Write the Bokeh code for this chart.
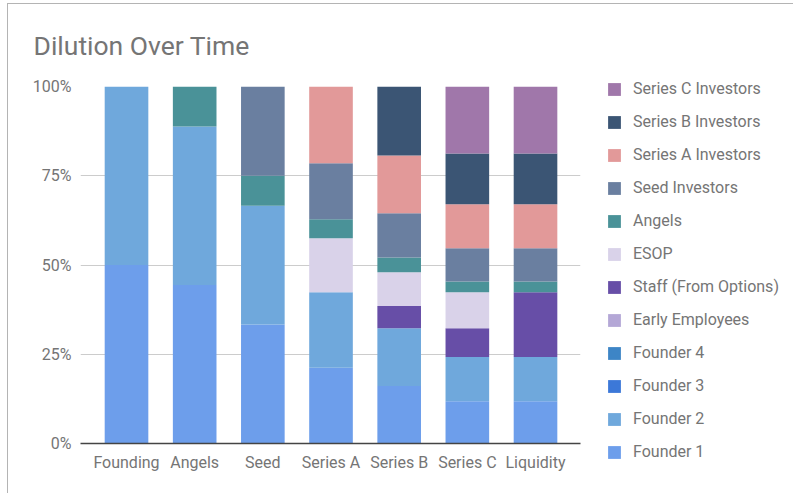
from bokeh.plotting import figure
from bokeh.models import (ColumnDataSource, Range1d, FixedTicker, Legend,
                          LegendItem)
from bokeh.embed import file_html
from bokeh.resources import INLINE

stages = ["Founding", "Angels", "Seed", "Series A", "Series B", "Series C", "Liquidity"]

founder_1 = [50.0, 44.4, 33.3, 21.2, 16.1, 11.8, 11.8]
founder_2 = [50.0, 44.4, 33.3, 21.2, 16.2, 12.4, 12.4]
founder_3 = [0, 0, 0, 0, 0, 0, 0]
founder_4 = [0, 0, 0, 0, 0, 0, 0]
early_employees = [0, 0, 0, 0, 0, 0, 0]
staff_options = [0, 0, 0, 0, 6.2, 8.1, 18.2]
esop = [0, 0, 0, 15.1, 9.5, 10.1, 0]
angels = [0, 11.2, 8.4, 5.3, 4.1, 3.0, 3.0]
seed_investors = [0, 0, 25.0, 15.7, 12.4, 9.3, 9.3]
series_a_investors = [0, 0, 0, 21.5, 16.2, 12.3, 12.3]
series_b_investors = [0, 0, 0, 0, 19.3, 14.2, 14.2]
series_c_investors = [0, 0, 0, 0, 0, 18.8, 18.8]

series_names = ["Founder 1", "Founder 2", "Founder 3", "Founder 4", "Early Employees",
                "Staff (From Options)", "ESOP", "Angels", "Seed Investors",
                "Series A Investors", "Series B Investors", "Series C Investors"]
series_values = [founder_1, founder_2, founder_3, founder_4, early_employees,
                 staff_options, esop, angels, seed_investors,
                 series_a_investors, series_b_investors, series_c_investors]
series_colors = ["#6d9eeb", "#6fa8dc", "#3c78d8", "#3d85c6", "#b4a7d6",
                 "#674ea7", "#d9d2e9", "#4a9298", "#6a7fa0",
                 "#e29999", "#3b5574", "#a077aa"]

y_ticks = [0, 25, 50, 75, 100]
y_tick_labels = ["0%", "25%", "50%", "75%", "100%"]

TEXT = "#757575"
FONT = "Roboto"

keys = ["s%d" % i for i in range(len(series_names))]
data = {"x": list(range(len(stages)))}
for k, v in zip(keys, series_values):
    data[k] = v
src = ColumnDataSource(data)

p = figure(width=793, height=493, frame_width=500,
           output_backend="svg", toolbar_location=None,
           x_range=Range1d(-0.675, 6.66), y_range=Range1d(0, 100),
           min_border_left=80, min_border_right=213, min_border_top=86,
           min_border_bottom=50, title="Dilution Over Time")
p.outline_line_color = None
# thin card frame (top and left edges) seen in the reference
p.border_fill_color = None
p.background_fill_color = None
p.styles = {
    "background": ("linear-gradient(#b4b4b4, #b4b4b4) 7px 3px / 1px 100% no-repeat, "
                   "linear-gradient(#b4b4b4, #b4b4b4) 7px 3px / 100% 1px no-repeat, "
                   "#ffffff")
}

renderers = p.vbar_stack(keys, x="x", width=0.64, color=series_colors,
                         line_color=None, source=src)

p.title.text_font = FONT
p.title.text_font_size = "26.5px"
p.title.text_font_style = "normal"
p.title.text_color = TEXT
p.title.align = "left"
p.title.offset = -47
p.title.standoff = 51

p.xaxis.ticker = FixedTicker(ticks=list(range(len(stages))))
p.xaxis.major_label_overrides = {i: s for i, s in enumerate(stages)}
p.yaxis.ticker = FixedTicker(ticks=y_ticks)
p.yaxis.major_label_overrides = {t: l for t, l in zip(y_ticks, y_tick_labels)}
for ax in (p.xaxis, p.yaxis):
    ax.major_tick_line_color = None
    ax.minor_tick_line_color = None
    ax.major_tick_out = 0
    ax.major_tick_in = 0
    ax.minor_tick_out = 0
    ax.minor_tick_in = 0
    ax.major_label_text_font = FONT
    ax.major_label_text_font_size = "16px"
    ax.major_label_text_color = TEXT
p.yaxis.axis_line_color = None
p.yaxis.major_label_standoff = 9
p.xaxis.axis_line_color = "#444444"
p.xaxis.axis_line_width = 1.5
p.xaxis.major_label_standoff = 9
p.xgrid.grid_line_color = None
p.ygrid.grid_line_color = "#cccccc"

# legend, top item = last series
items = [LegendItem(label=n, renderers=[r]) for n, r in zip(series_names, renderers)]
legend = Legend(items=items[::-1], location=(26, -18), orientation="vertical",
                glyph_width=16, glyph_height=16, label_height=19, spacing=14,
                label_standoff=11, padding=0, margin=0,
                border_line_color=None, background_fill_alpha=0,
                label_text_font=FONT, label_text_font_size="16px",
                label_text_color=TEXT)
p.add_layout(legend, "right")

open("out.html", "w").write(file_html(p, INLINE))
